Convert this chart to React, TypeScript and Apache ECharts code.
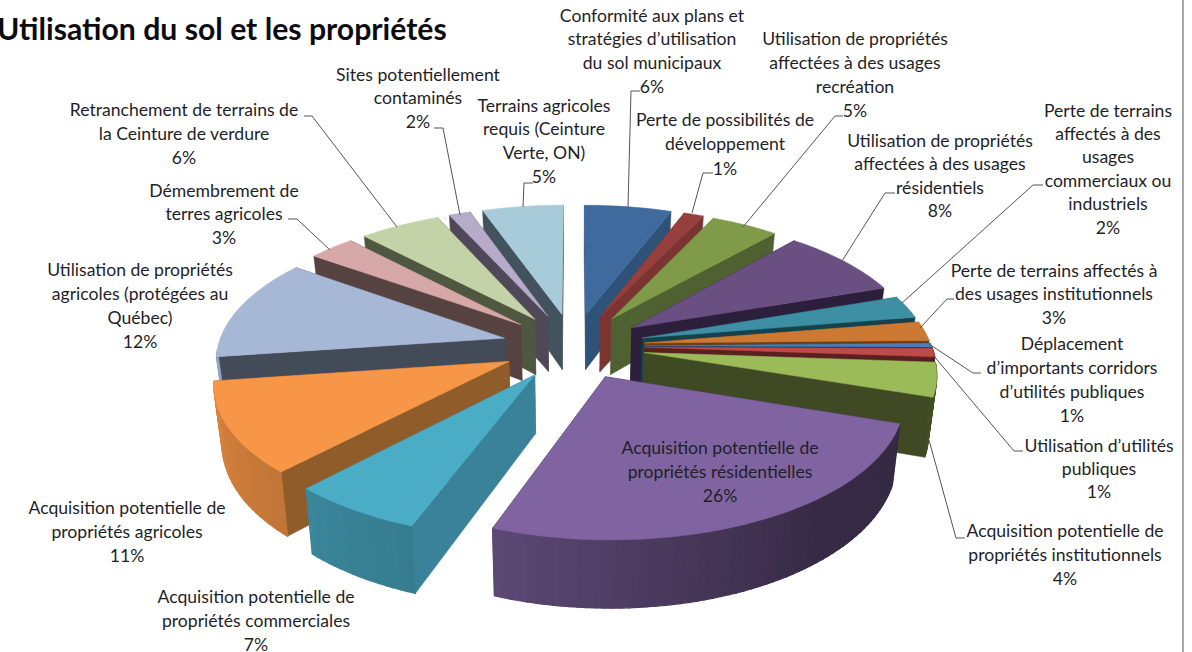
import React, { useEffect, useRef } from "react";
import * as echarts from "echarts";

const titleText = "Utilisation du sol et les propriétés";

const sliceNames = [
  ["Conformité aux plans et", "stratégies d’utilisation", "du sol municipaux"],
  ["Perte de possibilités de", "développement"],
  ["Utilisation de propriétés", "affectées à des usages", "recréation"],
  ["Utilisation de propriétés", "affectées à des usages", "résidentiels"],
  ["Perte de terrains", "affectés à des", "usages", "commerciaux ou", "industriels"],
  ["Perte de terrains affectés à", "des usages institutionnels"],
  ["Déplacement", "d’importants corridors", "d’utilités publiques"],
  ["Utilisation d’utilités", "publiques"],
  ["Acquisition potentielle de", "propriétés institutionnels"],
  ["Acquisition potentielle de", "propriétés résidentielles"],
  ["Acquisition potentielle de", "propriétés commerciales"],
  ["Acquisition potentielle de", "propriétés agricoles"],
  ["Utilisation de propriétés", "agricoles (protégées au", "Québec)"],
  ["Démembrement de", "terres agricoles"],
  ["Retranchement de terrains de", "la Ceinture de verdure"],
  ["Sites potentiellement", "contaminés"],
  ["Terrains agricoles", "requis (Ceinture", "Verte, ON)"],
];

// Percentages as printed on the labels
const printedPercent = [6, 1, 5, 8, 2, 3, 1, 1, 4, 26, 7, 11, 12, 3, 6, 2, 5];

const sliceShares = [5.7, 1.3, 4.4, 8.3, 2.7, 2.3, 0.45, 1.0, 4.05, 25.45, 6.35, 10.8, 12.2, 3.05, 5.3, 1.4, 5.3];

const topColors = [
  "#3e6a9e", "#963f3c", "#7f9a48", "#6a4f83", "#3e8ea4", "#cc7a33", "#4a7ebb", "#be4b48", "#9bbb59",
  "#8064a2", "#4bacc6", "#f79646", "#a7b8d6", "#d7a8a8", "#c3d3a7", "#b6abc9", "#a7cbd9",
];
const radialWallColors = [
  "#2f5278", "#7a3533", "#4f6130", "#2c1f3c", "#14424f", "#6d3f18", "#1f3a5c", "#5a1f1f", "#3f4a24",
  "#33263e", "#3a8299", "#8f5c2a", "#444b58", "#574242", "#505740", "#4f4858", "#42535d",
];

// Label layout: centre x, y of the first line, line height
const labelLayout = [
  [652, 15, 23.7], [725, 119, 24.5], [855, 38, 24], [940, 140, 23.5], [1108, 110, 23.4], [1054, 270, 23.5],
  [1072, 343, 24], [1099, 445, 23], [1065, 530, 24], [720, 447, 24], [256, 596, 24], [127, 507, 24],
  [140, 269, 24], [224, 190, 23.5], [184, 109, 24], [418, 74, 23.5], [544, 105, 23.7],
];

// Leader lines: [x, y] vertices, from the slice to the label; the in-pie label has none
const leaderLines = [
  [[628, 207], [631, 91], [640, 91]],
  [[692, 213], [703, 173], [713, 173]],
  [[743, 227], [835, 116], [843, 116]],
  [[842, 261], [885, 193], [895, 193]],
  [[902, 303], [1033, 185], [1043, 185]],
  [[920, 328], [947, 299], [954, 299]],
  [[929, 344], [973, 373], [981, 373]],
  [[933, 355], [1014, 451], [1023, 451]],
  [[929, 440], [956, 538], [965, 538]],
  null,
  null,
  null,
  null,
  [[330, 250], [297, 219], [288, 219]],
  [[397, 227], [312, 116], [304, 116]],
  [[460, 215], [443, 128], [434, 128]],
  [[523, 207], [524, 183], [533, 183]],
];

const CX = 573.5;
const CY = 346;
const RADIUS = 286.5;
const KY = 132;
const PERSP = 0.135;
const EXPLODE = 0.25;
const WALL = 57;
const BOTTOM_SHRINK = 0.977;
const rad = Math.PI / 180;

const project = (u: number, v: number) => {
  const s = 1 / (1 - PERSP * v);
  return [CX + u * RADIUS * s, CY + v * KY * s, s];
};
const topPoint = (u: number, v: number) => {
  const p = project(u, v);
  return [p[0], p[1]];
};
const bottomPoint = (u: number, v: number) => {
  const p = project(u, v);
  return [CX + (p[0] - CX) * BOTTOM_SHRINK, p[1] + WALL * p[2]];
};

const shade = (hex: string, f: number) => {
  const n = parseInt(hex.slice(1), 16);
  const c = (x: number) => Math.round(x * f);
  return `rgb(${c((n >> 16) & 255)},${c((n >> 8) & 255)},${c(n & 255)})`;
};
const outerShade = (deg: number) => {
  if (deg <= 140) return 0.42;
  if (deg <= 200) return 0.42 + ((deg - 140) / 60) * 0.3;
  return Math.min(0.88, 0.72 + ((deg - 200) / 62) * 0.16);
};

const total = sliceShares.reduce((a, b) => a + b, 0);
const sliceAngles = (() => {
  let c = 0;
  return sliceShares.map((s) => {
    const a0 = (c / total) * 360;
    c += s;
    return [a0, (c / total) * 360];
  });
})();
const drawOrder = sliceAngles
  .map(([a0, a1], i) => ({ i, v: -Math.cos((((a0 + a1) / 2) * rad)) }))
  .sort((p, q) => p.v - q.v)
  .map((p) => p.i);

function renderSlice(_params: any, api: any) {
  const i = api.value(0);
  const [a0, a1] = sliceAngles[i];
  const mid = ((a0 + a1) / 2) * rad;
  const au = Math.sin(mid) * EXPLODE;
  const av = -Math.cos(mid) * EXPLODE;
  const at = (deg: number): [number, number] => [au + Math.sin(deg * rad), av - Math.cos(deg * rad)];
  const steps = Math.max(2, Math.ceil((a1 - a0) / 1.5));
  const degs: number[] = [];
  for (let k = 0; k <= steps; k++) degs.push(a0 + ((a1 - a0) * k) / steps);

  const children: any[] = [];
  const poly = (points: number[][], fill: string, lineWidth = 0.5) => ({
    type: "polygon",
    shape: { points },
    style: { fill, stroke: fill, lineWidth },
  });
  const wallColor = radialWallColors[i];
  const [s0u, s0v] = at(a0);
  const [s1u, s1v] = at(a1);
  children.push(poly([topPoint(au, av), topPoint(s0u, s0v), bottomPoint(s0u, s0v), bottomPoint(au, av)], wallColor));
  children.push(poly([topPoint(au, av), topPoint(s1u, s1v), bottomPoint(s1u, s1v), bottomPoint(au, av)], wallColor));
  for (let k = 0; k < steps; k++) {
    const d0 = degs[k];
    const d1 = degs[k + 1];
    const dm = (d0 + d1) / 2;
    // The curved wall is only seen where it faces the viewer
    if (dm < 90 || dm > 265) continue;
    const [u0, v0] = at(d0);
    const [u1, v1] = at(d1);
    children.push(
      poly(
        [topPoint(u0, v0), topPoint(u1, v1), bottomPoint(u1, v1), bottomPoint(u0, v0)],
        shade(topColors[i], outerShade(dm)),
        1.2
      )
    );
  }
  const face = [topPoint(au, av), ...degs.map((d) => {
    const [u, v] = at(d);
    return topPoint(u, v);
  })];
  children.push(poly(face, topColors[i]));
  return { type: "group", children };
}

export default function App() {
  const ref = useRef<HTMLDivElement>(null);
  useEffect(() => {
    if (!ref.current) return;
    const chart = echarts.init(ref.current, undefined, { renderer: "svg" });
    const font = "Lato, 'Noto Sans', sans-serif";
    const texts: any[] = [];
    sliceNames.forEach((lines, i) => {
      const [x, y0, lh] = labelLayout[i];
      [...lines, `${printedPercent[i]}%`].forEach((line, k) => {
        texts.push({
          type: "text",
          z: 100,
          x,
          y: y0 + k * lh,
          style: { text: line, fill: "#1f1f28", font: `17.6px ${font}`, align: "center", verticalAlign: "middle" },
        });
      });
    });
    const leaders = leaderLines
      .filter((l) => l)
      .map((points) => ({
        type: "polyline",
        z: 50,
        shape: { points },
        style: { stroke: "#555555", lineWidth: 1, fill: "none" },
      }));
    chart.setOption({
      animation: false,
      backgroundColor: "#ffffff",
      graphic: [
        {
          type: "text",
          z: 100,
          x: -3,
          y: 28,
          style: { text: titleText, fill: "#0c0c10", font: `bold 30.2px ${font}`, align: "left", verticalAlign: "middle" },
        },
        {
          type: "rect",
          z: 100,
          shape: { x: 1182, y: 0, width: 2, height: 652 },
          style: { fill: "#a8a8a8" },
        },
        ...leaders,
        ...texts,
      ],
      series: [
        {
          type: "custom",
          coordinateSystem: "none",
          silent: true,
          data: drawOrder.map((i) => [i, sliceShares[i]]),
          renderItem: renderSlice,
        },
      ],
    });
    return () => chart.dispose();
  }, []);
  return <div ref={ref} style={{ position: "absolute", left: 0, top: 0, width: 1192, height: 652 }} />;
}
